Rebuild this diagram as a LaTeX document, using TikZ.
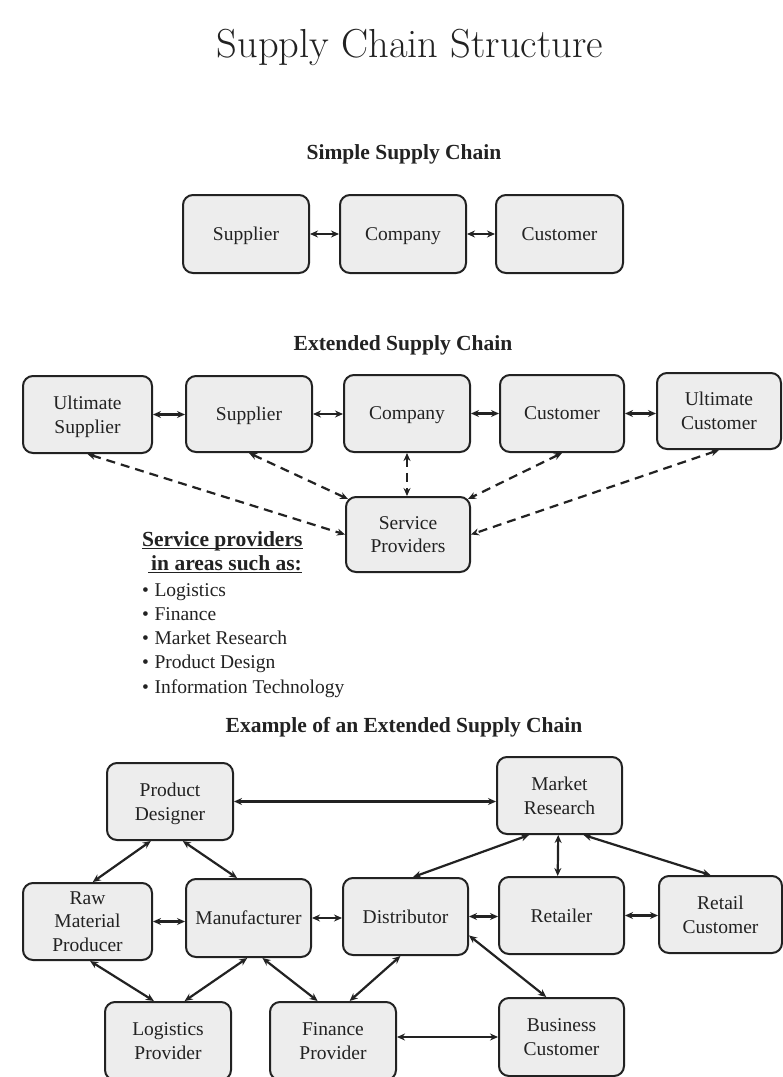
\documentclass[tikz,border=0pt]{standalone}
\usepackage{fontspec}
\newfontfamily\bodyfont{Liberation Serif}
\usetikzlibrary{arrows.meta,calc}

\definecolor{ink}{HTML}{222222}
\definecolor{boxfill}{HTML}{EDEDED}

\tikzset{
  box/.style={draw=ink, fill=boxfill, line width=2pt, rounded corners=10pt,
    align=center, inner sep=0pt, text=ink, text depth=-2pt,
    font=\bodyfont\fontsize{19.5}{23.8}\selectfont},
  dims/.style 2 args={minimum width=#1pt, minimum height=#2pt},
  link/.style={draw=ink, line width=2.2pt,
    {Stealth[length=8pt,width=7pt]}-{Stealth[length=8pt,width=7pt]}},
  dashlink/.style={link, dash pattern=on 9pt off 6pt},
  heading/.style={inner sep=0pt, text=ink,
    font=\bodyfont\fontsize{21.5}{26}\selectfont\bfseries},
  listitem/.style={inner sep=0pt, text=ink, anchor=base west,
    font=\bodyfont\fontsize{19.5}{24}\selectfont},
  rule/.style={draw=ink, line width=1.6pt},
}

\begin{document}
\begin{tikzpicture}[x=1pt, y=-1pt]
\useasboundingbox (0,0) rectangle (783,1077);
\clip (0,0) rectangle (783,1077);
\fill[white] (0,0) rectangle (783,1077);

% ---------- title ----------
\node[inner sep=0pt, text=ink, anchor=base, font=\fontsize{40.5}{48}\selectfont]
  (title) at (410,57) {Supply Chain Structure};

% ---------- simple supply chain ----------
\node[heading, anchor=base] (hsimple) at (404,159) {Simple Supply Chain};

\node[box, dims={126}{78}] (sup1)  at (246,234)   {Supplier};
\node[box, dims={126}{78}] (comp1) at (403,234)   {Company};
\node[box, dims={127}{78}] (cust1) at (559.5,234) {Customer};

\draw[link] (sup1.east) -- (comp1.west);
\draw[link] (comp1.east) -- (cust1.west);

% ---------- extended supply chain ----------
\node[heading, anchor=base] (hext) at (403,350) {Extended Supply Chain};

\node[box, dims={129}{77}] (us)    at (87.5,414.5) {Ultimate\\Supplier};
\node[box, dims={126}{76}] (sup2)  at (249,414)    {Supplier};
\node[box, dims={126}{77}] (comp2) at (407,413.5)  {Company};
\node[box, dims={124}{77}] (cust2) at (562,413.5)  {Customer};
\node[box, dims={124}{76}] (uc)    at (719,411)    {Ultimate\\Customer};
\node[box, dims={124}{75}] (sp)    at (408,534.5)  {Service\\Providers};

\draw[link] (us.east) -- (us.east -| sup2.west);
\draw[link] (sup2.east) -- (sup2.east -| comp2.west);
\draw[link] (comp2.east) -- (comp2.east -| cust2.west);
\draw[link] (cust2.east) -- (cust2.east -| uc.west);

\draw[dashlink] (us.south) -- (sp.west);
\draw[dashlink] (sup2.south) -- ($(sp.north west)+(3,3)$);
\draw[dashlink] (comp2.south) -- (comp2.south |- sp.north);
\draw[dashlink] (cust2.south) -- ($(sp.north east)+(-3,3)$);
\draw[dashlink] (uc.south) -- (sp.east);

% ---------- service provider areas ----------
\node[heading, anchor=base west] (svc) at (142,546) {Service providers};
\node[heading, anchor=base west] (areas) at (151,570) {in areas such as:};
\draw[rule] ($(svc.base west)+(0,2.5)$) -- ($(svc.base east)+(0,2.5)$);
\draw[rule] ($(areas.base west)+(-3,2.5)$) -- ($(areas.base east)+(0,2.5)$);

\node[listitem] (i1) at (142,596)   {•\hspace{5.5pt}Logistics};
\node[listitem] (i2) at (142,620)   {•\hspace{5.5pt}Finance};
\node[listitem] (i3) at (142,644)   {•\hspace{5.5pt}Market Research};
\node[listitem] (i4) at (142,668.5) {•\hspace{5.5pt}Product Design};
\node[listitem] (i5) at (142,693)   {•\hspace{5.5pt}Information Technology};

% ---------- example of an extended supply chain ----------
\node[heading, anchor=base] (hexample) at (404,732) {Example of an Extended Supply Chain};

\node[box, dims={126}{77}] (pd)   at (170,801.5)   {Product\\Designer};
\node[box, dims={125}{77}] (mr)   at (559.5,795.5) {Market\\Research};
\node[box, dims={129}{77}] (rm)   at (87.5,921.5)  {Raw\\Material\\Producer};
\node[box, dims={125}{78}] (man)  at (248.5,918)   {Manufacturer};
\node[box, dims={125}{77}] (dist) at (405.5,916.5) {Distributor};
\node[box, dims={125}{77}] (ret)  at (561.5,915.5) {Retailer};
\node[box, dims={123}{77}] (rc)   at (720.5,914.5) {Retail\\Customer};
\node[box, dims={126}{78}] (log)  at (168,1041)    {Logistics\\Provider};
\node[box, dims={126}{78}] (fin)  at (333,1041)    {Finance\\Provider};
\node[box, dims={125}{78}] (bc)   at (561.5,1037)  {Business\\Customer};

% top links
\draw[link] (pd.east) -- (pd.east -| mr.west);
\draw[link] ($(pd.south west)!0.35!(pd.south east)$) -- ($(rm.north west)!0.54!(rm.north east)$);
\draw[link] ($(pd.south west)!0.60!(pd.south east)$) -- ($(man.north west)!0.41!(man.north east)$);
\draw[link] ($(mr.south west)!0.26!(mr.south east)$) -- ($(dist.north west)!0.56!(dist.north east)$);
\draw[link] ($(mr.south west)!0.49!(mr.south east)$) -- ($(ret.north west)!0.47!(ret.north east)$);
\draw[link] ($(mr.south west)!0.69!(mr.south east)$) -- ($(rc.north west)!0.42!(rc.north east)$);

% middle row
\draw[link] (rm.east) -- (rm.east -| man.west);
\draw[link] (man.east) -- (man.east -| dist.west);
\draw[link] (dist.east) -- (dist.east -| ret.west);
\draw[link] (ret.east) -- (ret.east -| rc.west);

% bottom links
\draw[link] ($(rm.south west)!0.52!(rm.south east)$) -- ($(log.north west)!0.39!(log.north east)$);
\draw[link] ($(man.south west)!0.49!(man.south east)$) -- ($(log.north west)!0.63!(log.north east)$);
\draw[link] ($(man.south west)!0.61!(man.south east)$) -- ($(fin.north west)!0.38!(fin.north east)$);
\draw[link] ($(dist.south west)!0.46!(dist.south east)$) -- ($(fin.north west)!0.63!(fin.north east)$);
\draw[link] ($(dist.north east)!0.74!(dist.south east)$) -- ($(bc.north west)!0.38!(bc.north east)$);
\draw[link] (bc.west -| fin.east) -- (bc.west);
\end{tikzpicture}
\end{document}
